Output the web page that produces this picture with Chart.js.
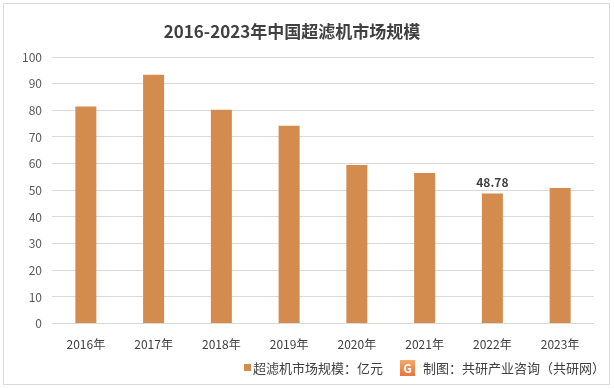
<!DOCTYPE html>
<html>
<head>
<meta charset="utf-8">
<script src="https://cdn.jsdelivr.net/npm/chart.js@4"></script>
<style>
    body { margin: 0; background: #fff; }
    #wrap { width: 614px; height: 389px; }
</style>
</head>
<body>
<div id="wrap"><canvas id="market-chart" width="614" height="389"></canvas></div>
<script>
const years = ['2016年', '2017年', '2018年', '2019年', '2020年', '2021年', '2022年', '2023年'];
const marketSize = [81.4, 93.3, 80.2, 74.2, 59.5, 56.5, 48.78, 50.9];
const yTicks = [0, 10, 20, 30, 40, 50, 60, 70, 80, 90, 100];
const seriesName = '超滤机市场规模：亿元';
const creditText = '制图：共研产业咨询（共研网）';
const labeledYear = '2022年';

const FONT = '"Noto Sans CJK SC", "Noto Sans", sans-serif';
const BAR_COLOR = '#D38B4E';

// frame, title, value label and bottom legend drawn on the canvas
const decorations = {
    id: 'decorations',
    beforeDraw(chart) {
        const ctx = chart.ctx;
        ctx.save();
        ctx.fillStyle = '#fff';
        ctx.fillRect(0, 0, chart.width, chart.height);
        ctx.strokeStyle = '#D9D9D9';
        ctx.lineWidth = 1;
        ctx.strokeRect(3.5, 3.5, 606, 381);
        ctx.restore();
    },
    afterDraw(chart) {
        const ctx = chart.ctx;
        ctx.save();

        // title
        ctx.fillStyle = '#404040';
        ctx.font = 'bold 17px ' + FONT;
        ctx.textAlign = 'center';
        ctx.textBaseline = 'middle';
        ctx.fillText('2016-2023年中国超滤机市场规模', 292, 32);

        // data label on 2022
        const idx = years.indexOf(labeledYear);
        const bar = chart.getDatasetMeta(0).data[idx];
        ctx.font = 'bold 12px ' + FONT;
        ctx.fillStyle = '#404040';
        ctx.textBaseline = 'bottom';
        ctx.fillText(marketSize[idx].toFixed(2), bar.x, bar.y - 5);

        // legend
        ctx.textBaseline = 'middle';
        ctx.textAlign = 'left';
        ctx.fillStyle = BAR_COLOR;
        ctx.fillRect(244, 364, 7, 7);
        ctx.font = '13px ' + FONT;
        ctx.fillStyle = '#404040';
        ctx.fillText(seriesName, 253, 368);

        // credit logo + text
        const g = ctx.createLinearGradient(400, 360, 400, 377);
        g.addColorStop(0, '#F4A86A');
        g.addColorStop(1, '#E9703A');
        ctx.fillStyle = g;
        ctx.fillRect(400, 360, 15, 16);
        ctx.fillStyle = '#fff';
        ctx.font = 'bold 12px ' + FONT;
        ctx.textAlign = 'center';
        ctx.fillText('G', 407.5, 368.5);
        ctx.textAlign = 'left';
        ctx.fillStyle = '#404040';
        ctx.font = '13px ' + FONT;
        ctx.fillText(creditText, 423, 368);

        ctx.restore();
    }
};

const ctx = document.getElementById('market-chart').getContext('2d');
const marketChart = new Chart(ctx, {
    type: 'bar',
    data: {
        labels: years,
        datasets: [
            {
                label: seriesName,
                data: marketSize,
                backgroundColor: BAR_COLOR,
                barPercentage: 0.31,
                categoryPercentage: 1,
            },
        ],
    },
    options: {
        responsive: false,
        animation: false,
        layout: { padding: { top: 57, right: 20, bottom: 31, left: 12 } },
        plugins: {
            legend: { display: false },
            tooltip: { enabled: false },
        },
        scales: {
            x: {
                grid: { display: false },
                border: { display: false },
                ticks: { color: '#404040', font: { family: FONT, size: 12 }, padding: 6 },
            },
            y: {
                min: 0,
                max: 100,
                afterBuildTicks: (axis) => { axis.ticks = yTicks.map(v => ({ value: v })); },
                grid: { color: '#D9D9D9', drawTicks: false },
                border: { display: false },
                ticks: { color: '#595959', font: { family: FONT, size: 12 }, padding: 10 },
            },
        },
    },
    plugins: [decorations],
});
</script>
</body>
</html>
